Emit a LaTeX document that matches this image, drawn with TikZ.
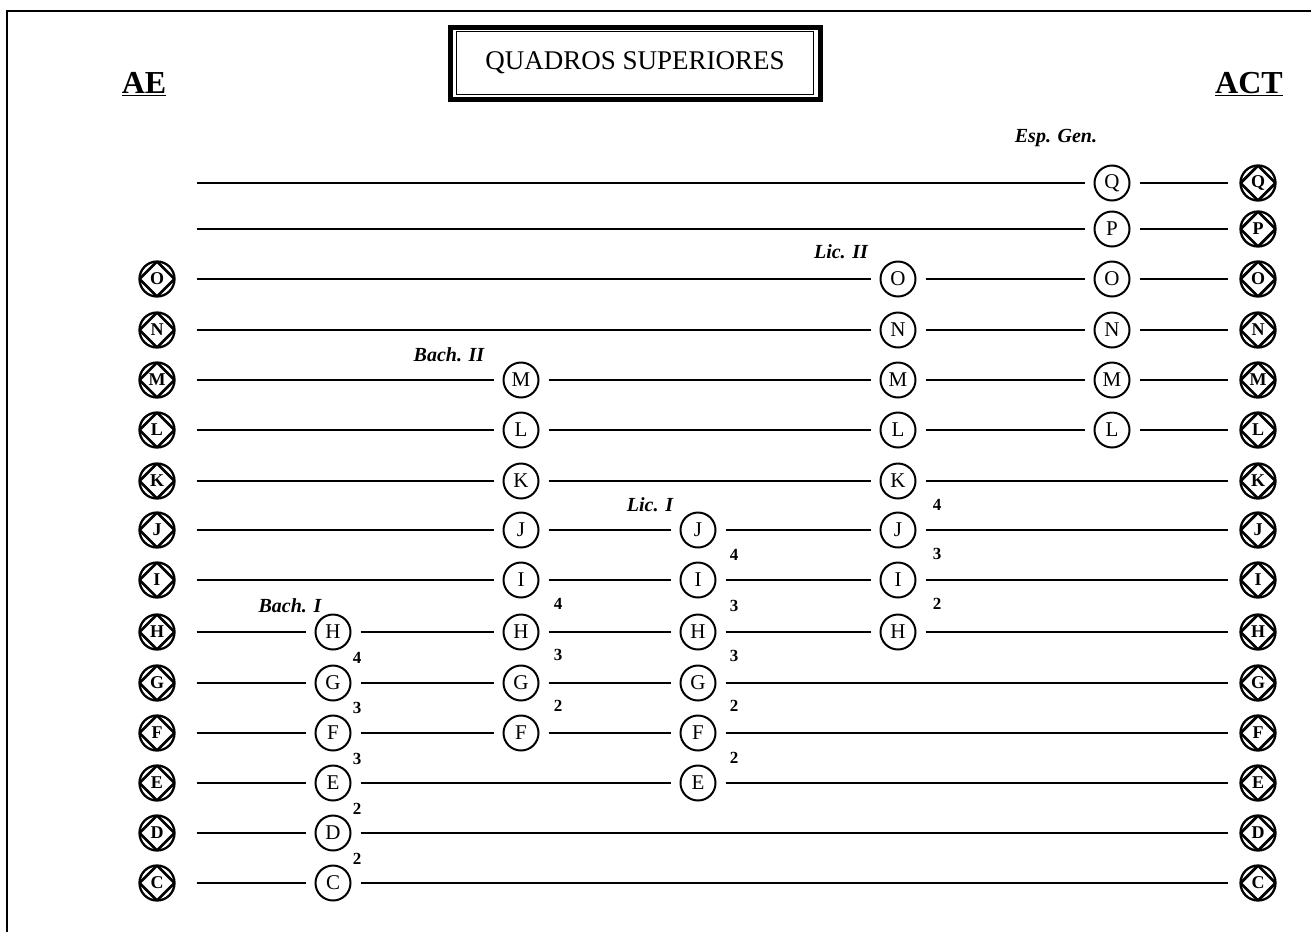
\documentclass[tikz,border=0pt]{standalone}
\usepackage{fontspec}
\setmainfont{Liberation Serif}
\usetikzlibrary{calc}

\begin{document}
\begin{tikzpicture}[x=1pt,y=-1pt,
  grade/.style={circle,draw,line width=2pt,inner sep=0pt,minimum size=35pt,outer sep=10pt,font=\fontsize{21}{21}\selectfont},
  rank/.style={circle,draw,line width=2.3pt,inner sep=0pt,minimum size=35pt,font=\bfseries\fontsize{18}{18}\selectfont,
    path picture={\draw[line width=2.8pt] (path picture bounding box.north) -- (path picture bounding box.east)
      -- (path picture bounding box.south) -- (path picture bounding box.west) -- cycle;}},
  tier/.style={inner sep=0pt,font=\bfseries\fontsize{17}{17}\selectfont},
  stage/.style={inner sep=0pt,font=\bfseries\itshape\fontsize{20}{20}\selectfont},
  head/.style={inner sep=0pt,font=\bfseries\fontsize{32}{32}\selectfont},
  link/.style={draw,line width=2pt}
]
\useasboundingbox (0,0) rectangle (1311,932);
% open frame
\draw[line width=2.5pt] (7,932) -- (7,11) -- (1311,11);

% title and sides
\node[draw,line width=5pt,minimum width=370pt,minimum height=72pt,inner sep=0pt,font=\fontsize{27}{27}\selectfont] (title) at (635,63) {QUADROS SUPERIORES};
\draw[line width=1pt] ($(title.south west)+(9,-7)$) rectangle ($(title.north east)+(-9,7)$);
\node[head] (ae) at (144,84) {\underline{AE}};
\node[head] (act) at (1249,84) {\underline{ACT}};

% posts on both sides
\foreach \l/\y in {C/883,D/833,E/783,F/733,G/683,H/632,I/580,J/530,K/481,L/430,M/380,N/330,O/279}
  \node[rank,outer sep=22pt] (ae-\l) at (157,\y) {\l};
\foreach \l/\y in {C/883,D/833,E/783,F/733,G/683,H/632,I/580,J/530,K/481,L/430,M/380,N/330,O/279,P/229,Q/183}
  \node[rank,outer sep=13pt] (act-\l) at (1258,\y) {\l};
\coordinate (start-P) at (197,229);
\coordinate (start-Q) at (197,183);

% grades per course
\foreach \l/\y in {C/883,D/833,E/783,F/733,G/683,H/632}
  \node[grade] (bachI-\l) at (333,\y) {\l};
\foreach \l/\y in {F/733,G/683,H/632,I/580,J/530,K/481,L/430,M/380}
  \node[grade] (bachII-\l) at (521,\y) {\l};
\foreach \l/\y in {E/783,F/733,G/683,H/632,I/580,J/530}
  \node[grade] (licI-\l) at (698,\y) {\l};
\foreach \l/\y in {H/632,I/580,J/530,K/481,L/430,M/380,N/330,O/279}
  \node[grade] (licII-\l) at (898,\y) {\l};
\foreach \l/\y in {L/430,M/380,N/330,O/279,P/229,Q/183}
  \node[grade] (esp-\l) at (1112,\y) {\l};

\node[stage] (bachI) at (290,606) {Bach. I};
\node[stage] (bachII) at (449,355) {Bach. II};
\node[stage] (licI) at (650,505) {Lic. I};
\node[stage] (licII) at (841,252) {Lic. II};
\node[stage] (esp) at (1056,138) {Esp. Gen.};

% years between grades
\foreach \n/\x/\y in {1/357/658,2/357/708,3/357/759,4/357/809,5/357/859}
  \node[tier] (yb1-\n) at (\x,\y) {\ifcase\n\or4\or3\or3\or2\or2\fi};
\foreach \n/\x/\y in {1/558/604,2/558/655,3/558/706}
  \node[tier] (yb2-\n) at (\x,\y) {\ifcase\n\or4\or3\or2\fi};
\foreach \n/\x/\y in {1/734/555,2/734/606,3/734/656,4/734/706,5/734/758}
  \node[tier] (yl1-\n) at (\x,\y) {\ifcase\n\or4\or3\or3\or2\or2\fi};
\foreach \n/\x/\y in {1/937/505,2/937/554,3/937/604}
  \node[tier] (yl2-\n) at (\x,\y) {\ifcase\n\or4\or3\or2\fi};

% rows
\foreach \a/\b in {start-Q/esp-Q,esp-Q/act-Q,start-P/esp-P,esp-P/act-P,
  ae-O/licII-O,licII-O/esp-O,esp-O/act-O,ae-N/licII-N,licII-N/esp-N,esp-N/act-N,
  ae-M/bachII-M,bachII-M/licII-M,licII-M/esp-M,esp-M/act-M,
  ae-L/bachII-L,bachII-L/licII-L,licII-L/esp-L,esp-L/act-L,
  ae-K/bachII-K,bachII-K/licII-K,licII-K/act-K,
  ae-J/bachII-J,bachII-J/licI-J,licI-J/licII-J,licII-J/act-J,
  ae-I/bachII-I,bachII-I/licI-I,licI-I/licII-I,licII-I/act-I,
  ae-H/bachI-H,bachI-H/bachII-H,bachII-H/licI-H,licI-H/licII-H,licII-H/act-H,
  ae-G/bachI-G,bachI-G/bachII-G,bachII-G/licI-G,licI-G/act-G,
  ae-F/bachI-F,bachI-F/bachII-F,bachII-F/licI-F,licI-F/act-F,
  ae-E/bachI-E,bachI-E/licI-E,licI-E/act-E,
  ae-D/bachI-D,bachI-D/act-D,ae-C/bachI-C,bachI-C/act-C}
  \draw[link] (\a) -- (\b);
\end{tikzpicture}
\end{document}
